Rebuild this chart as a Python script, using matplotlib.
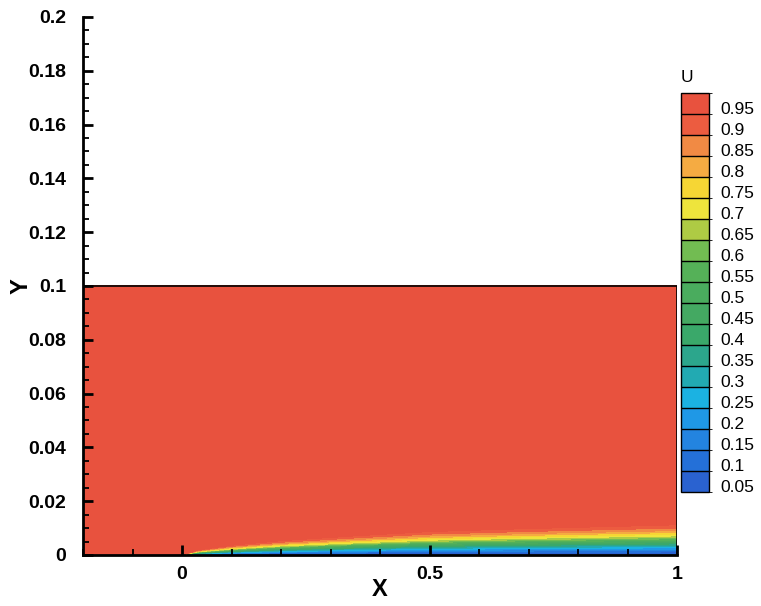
import numpy as np
import matplotlib
matplotlib.use("Agg")
import matplotlib.pyplot as plt
from matplotlib.colors import ListedColormap, BoundaryNorm
from matplotlib.colorbar import ColorbarBase
from matplotlib.ticker import MultipleLocator

# contour levels shown in the legend
levels = [0.05, 0.1, 0.15, 0.2, 0.25, 0.3, 0.35, 0.4, 0.45, 0.5,
          0.55, 0.6, 0.65, 0.7, 0.75, 0.8, 0.85, 0.9, 0.95]
level_labels = ["0.05", "0.1", "0.15", "0.2", "0.25", "0.3", "0.35", "0.4", "0.45", "0.5",
                "0.55", "0.6", "0.65", "0.7", "0.75", "0.8", "0.85", "0.9", "0.95"]

# boundary layer thickness (x station -> delta)
x_station = [0.0, 0.03, 0.1, 0.2, 0.35, 0.5, 0.7, 1.0]
delta_station = [0.0, 0.0018, 0.0036, 0.0053, 0.0071, 0.0087, 0.0098, 0.0112]

# velocity profile across the layer, eta = y / delta
eta_profile = [0.0, 0.15, 0.3, 0.45, 0.6, 0.72, 0.85, 1.0, 1.25]
u_profile = [0.0, 0.15, 0.32, 0.50, 0.67, 0.78, 0.88, 0.95, 1.0]

# domain extent
x_min, x_max = -0.2, 1.0
y_top = 0.1

colors = ["#2a62d0", "#2470d8", "#2384e0", "#1f98e6", "#1bb2e2", "#22aab2",
          "#2ca68c", "#3aa86a", "#44a962", "#4aac5e", "#55b158", "#72bc52",
          "#aecb44", "#eee43c", "#f6d634", "#f5ab42", "#f18a44", "#ec5c40",
          "#e8523e"]

# build the field on a grid
xg = np.linspace(x_min, x_max, 900)
yg = np.linspace(0, y_top, 1200)
X, Y = np.meshgrid(xg, yg)
delta = np.interp(X, x_station, delta_station)
eta = np.where(delta > 0, Y / np.maximum(delta, 1e-9), 10.0)
U = np.interp(eta, eta_profile, u_profile)

fig = plt.figure(figsize=(7.61, 6.06), dpi=100)
ax = fig.add_axes([0.1091, 0.0842, 0.7806, 0.8878])

fill_levels = [-0.01] + levels[1:] + [1.01]
ax.contourf(X, Y, U, levels=fill_levels, colors=colors)
ax.plot([x_min, x_max, x_max], [y_top, y_top, 0], color="black", lw=1.2)

ax.set_xlim(x_min, x_max)
ax.set_ylim(0, 0.2)
for s in ["top", "right"]:
    ax.spines[s].set_visible(False)
for s in ["left", "bottom"]:
    ax.spines[s].set_linewidth(2.0)

ax.xaxis.set_minor_locator(MultipleLocator(0.1))
ax.yaxis.set_minor_locator(MultipleLocator(0.005))
ax.set_xticks([0, 0.5, 1])
ax.set_xticklabels(["0", "0.5", "1"])
ax.set_yticks([0, 0.02, 0.04, 0.06, 0.08, 0.1, 0.12, 0.14, 0.16, 0.18, 0.2])
ax.set_yticklabels(["0", "0.02", "0.04", "0.06", "0.08", "0.1", "0.12",
                    "0.14", "0.16", "0.18", "0.2"])
ax.tick_params(which="major", direction="in", length=7, width=2)
ax.tick_params(which="minor", direction="in", length=4, width=1.3)
ax.tick_params(axis="y", which="major", pad=12)
ax.tick_params(axis="x", which="major", pad=8)
for lab in ax.get_xticklabels() + ax.get_yticklabels():
    lab.set_fontfamily("Liberation Sans")
    lab.set_fontweight("bold")
    lab.set_fontsize(14)

ax.set_xlabel("X", fontfamily="Liberation Sans", fontweight="bold", fontsize=17)
ax.set_ylabel("Y", fontfamily="Liberation Sans", fontweight="bold", fontsize=17)
ax.xaxis.set_label_coords(0.5, -0.043)
ax.yaxis.set_label_coords(-0.085, 0.5)

# legend box
cax = fig.add_axes([681 / 761, 1 - 492 / 606, 28 / 761, (492 - 93) / 606])
bounds = np.arange(0.025, 1.0, 0.05)
cb = ColorbarBase(cax, cmap=ListedColormap(colors), norm=BoundaryNorm(bounds, len(colors)),
                  drawedges=True)
cb.dividers.set_linewidth(1.0)
cb.outline.set_linewidth(1.0)
cb.set_ticks([v - 0.01 for v in levels])
cb.set_ticklabels(level_labels)
cax.tick_params(length=0, pad=8)
for lab in cax.get_yticklabels():
    lab.set_fontfamily("Liberation Sans")
    lab.set_fontsize(12.5)
fig.text(687 / 761, 1 - 78 / 606, "U", ha="center", va="center",
         fontfamily="Liberation Sans", fontsize=12.5)

fig.savefig("out.png", dpi=100)
